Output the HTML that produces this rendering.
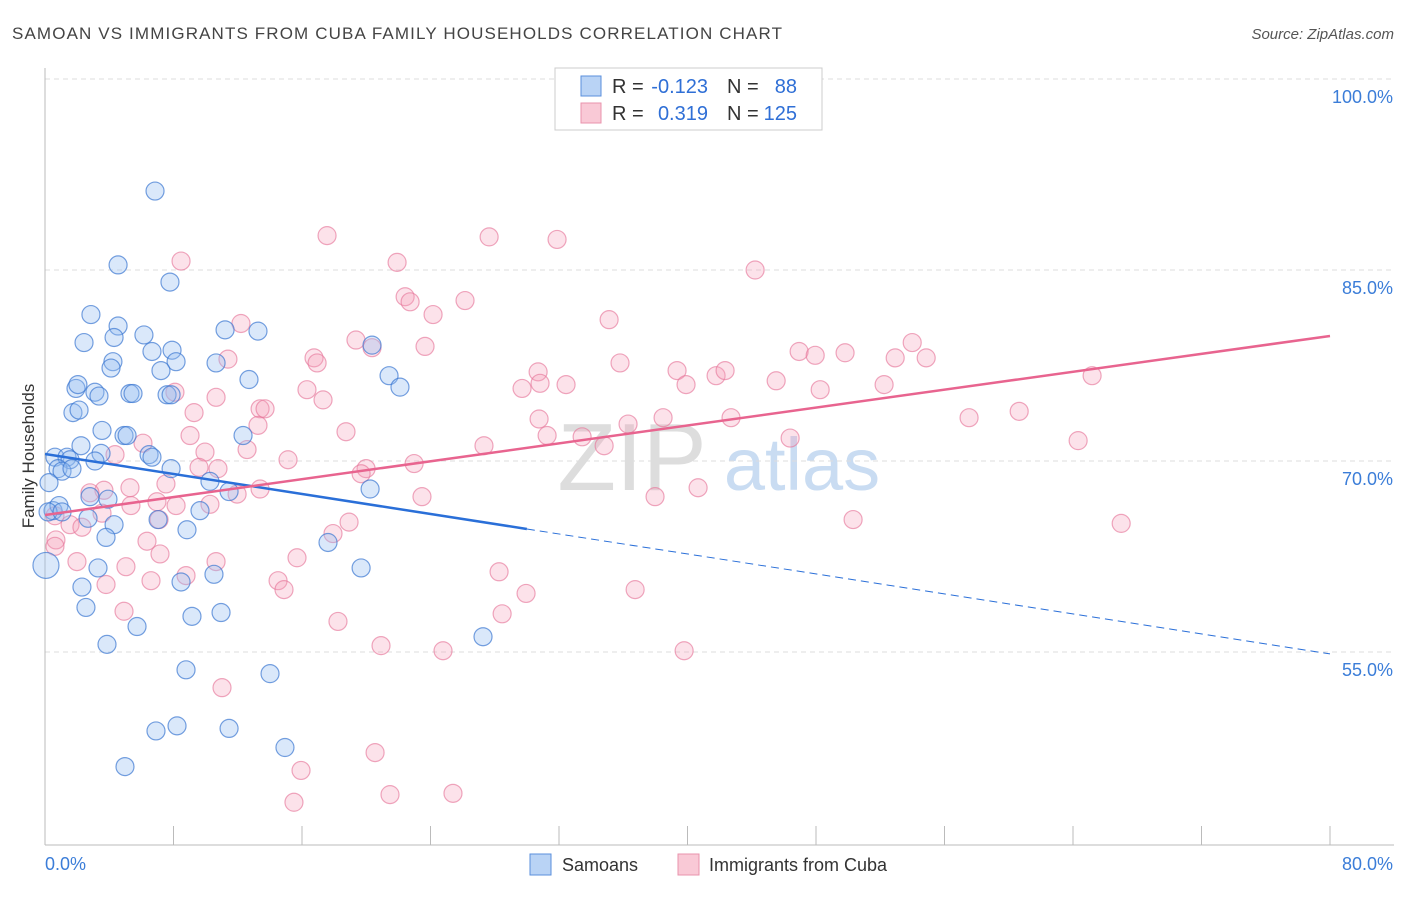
<!DOCTYPE html>
<html><head><meta charset="utf-8"><style>
body{margin:0;background:#fff;font-family:"Liberation Sans",sans-serif;}
svg text{font-family:"Liberation Sans",sans-serif;}
</style></head><body>
<svg id="chart" width="1406" height="892" xmlns="http://www.w3.org/2000/svg">
<text x="12" y="39" font-size="17" fill="#444" textLength="770" lengthAdjust="spacing">SAMOAN VS IMMIGRANTS FROM CUBA FAMILY HOUSEHOLDS CORRELATION CHART</text>
<text x="1394" y="39" font-size="15" fill="#555" font-style="italic" text-anchor="end">Source: ZipAtlas.com</text>
<text transform="translate(34,456) rotate(-90)" font-size="17" fill="#333" text-anchor="middle">Family Households</text>
<g>
<text x="632" y="490" font-size="96" fill="#ddd" text-anchor="middle" font-family="Liberation Serif">ZIP</text>
<text x="802" y="490" font-size="74" fill="#c9dcf2" text-anchor="middle">atlas</text>
</g>
<g id="grid"></g><g id="axes"></g><g id="pts"></g><g id="lines"></g>
<g>
<rect x="555" y="68" width="267" height="62" fill="#fff" stroke="#ccc"/>
<rect x="581" y="76" width="20" height="20" fill="#b9d3f5" stroke="#5a8fdc"/>
<rect x="581" y="103" width="20" height="20" fill="#f9c9d6" stroke="#e993ac"/>
<text x="612" y="93" font-size="20" fill="#333">R =</text>
<text x="708" y="93" font-size="20" fill="#2f6fd6" text-anchor="end">-0.123</text>
<text x="727" y="93" font-size="20" fill="#333">N =</text>
<text x="797" y="93" font-size="20" fill="#2f6fd6" text-anchor="end">88</text>
<text x="612" y="120" font-size="20" fill="#333">R =</text>
<text x="708" y="120" font-size="20" fill="#2f6fd6" text-anchor="end">0.319</text>
<text x="727" y="120" font-size="20" fill="#333">N =</text>
<text x="797" y="120" font-size="20" fill="#2f6fd6" text-anchor="end">125</text>
</g>
<g>
<rect x="530" y="854" width="21" height="21" fill="#b9d3f5" stroke="#5a8fdc"/>
<text x="562" y="871" font-size="18" fill="#333">Samoans</text>
<rect x="678" y="854" width="21" height="21" fill="#f9c9d6" stroke="#e993ac"/>
<text x="709" y="871" font-size="18" fill="#333">Immigrants from Cuba</text>
</g>
</svg>
<script>
const yTicks=[55,70,85,100];
const yTickLabels=["55.0%","70.0%","85.0%","100.0%"];
const xEndLabels=["0.0%","80.0%"];
const samoanX=[6.85,4.55,7.78,2.86,4.55,6.16,11.21,13.26,2.43,4.30,6.66,7.91,4.23,8.16,10.65,4.11,7.22,1.93,2.05,3.11,3.36,5.29,5.48,7.60,7.85,12.70,20.36,21.42,22.10,1.74,2.12,3.55,4.92,5.11,12.33,2.24,3.49,6.48,6.66,0.62,1.37,1.56,3.11,0.81,1.06,1.68,7.85,10.27,11.46,20.24,0.25,0.50,0.87,2.80,3.92,9.65,7.04,4.30,0.19,1.06,2.68,8.84,3.80,17.62,0.06,3.30,10.52,8.47,19.68,2.30,2.55,9.15,10.96,5.73,3.86,27.27,8.78,14.01,8.22,6.91,11.46,14.94,4.98];
const samoanY=[91.2,85.4,84.05,81.5,80.6,79.9,80.3,80.2,79.3,79.7,78.6,78.7,77.8,77.8,77.7,77.3,77.1,75.7,76.0,75.4,75.1,75.3,75.3,75.2,75.2,76.4,79.1,76.7,75.8,73.8,74.0,72.4,72.0,72.0,72.0,71.2,70.6,70.5,70.3,70.3,70.3,70.1,70.0,69.4,69.2,69.4,69.4,68.4,67.6,67.8,68.3,66.1,66.5,67.2,67.0,66.1,65.4,65.0,66.0,66.0,65.5,64.6,64.0,63.6,61.8,61.6,61.1,60.5,61.6,60.1,58.5,57.8,58.1,57.0,55.6,56.2,53.6,53.3,49.2,48.8,49.0,47.5,46.0];
const cubaX=[8.47,17.56,27.65,31.88,44.21,21.92,22.42,22.73,24.16,26.15,35.12,12.20,11.39,16.75,16.94,19.36,20.36,23.66,35.80,30.70,30.82,32.44,29.70,39.35,39.91,41.78,42.34,45.52,46.95,47.95,48.26,49.81,52.24,52.93,53.99,54.86,65.19,16.31,17.31,8.09,10.65,9.28,13.39,13.70,13.26,18.74,30.76,38.48,42.71,57.53,60.65,64.32,46.39,27.33,31.26,34.81,33.44,36.30,9.03,9.96,6.10,4.36,12.58,15.13,19.99,22.98,9.59,10.77,19.68,5.29,3.67,2.80,7.53,13.39,11.96,23.47,37.98,40.66,6.97,8.16,10.27,5.35,3.55,0.62,1.56,2.30,7.10,18.93,50.31,67.0,17.93,0.68,0.62,6.35,7.16,10.65,15.69,1.99,5.04,3.80,6.60,8.78,14.51,14.88,28.27,29.95,36.74,4.92,28.46,18.24,20.92,24.78,39.79,11.02,20.55,15.94,15.50,21.48,25.40];
const cubaY=[85.7,87.7,87.6,87.4,85.0,85.6,82.9,82.5,81.5,82.6,81.1,80.8,78.0,78.1,77.7,79.5,78.9,79.0,77.7,77.0,76.1,76.0,75.7,77.1,76.0,76.7,77.1,76.3,78.6,78.3,75.6,78.5,76.0,78.1,79.3,78.1,76.7,75.6,74.8,75.4,75.0,73.8,74.1,74.1,72.8,72.3,73.3,73.4,73.4,73.4,73.9,71.6,71.8,71.2,72.0,71.2,71.9,72.9,72.0,70.7,71.4,70.5,70.9,70.1,69.4,69.8,69.5,69.4,69.0,67.9,67.7,67.5,68.2,67.8,67.4,67.2,67.2,67.9,66.8,66.5,66.6,66.5,65.9,65.7,65.0,64.8,65.4,65.2,65.4,65.1,64.3,63.8,63.3,63.7,62.7,62.1,62.4,62.1,61.7,60.3,60.6,61.0,60.6,59.9,61.3,59.6,59.9,58.2,58.0,57.4,55.5,55.1,55.1,52.2,47.1,45.7,43.2,43.8,43.9];
const samoanTrend=[70.55,54.85];
const cubaTrend=[65.76,79.82];
const samoanTrendSolidEnd=30;

const NS="http://www.w3.org/2000/svg";
const X0=45,X1=1330,Y100=79,PX15=191;
function sx(v){return X0+(X1-X0)*v/80;}
function sy(v){return Y100+(100-v)*PX15/15;}
function mk(tag,attrs,parent){const e=document.createElementNS(NS,tag);for(const k in attrs)e.setAttribute(k,attrs[k]);parent.appendChild(e);return e;}
const grid=document.getElementById('grid'),axes=document.getElementById('axes'),pts=document.getElementById('pts'),lines=document.getElementById('lines');
yTicks.forEach((t,i)=>{
 const l=mk('line',{x1:45,x2:1394,y1:sy(t),y2:sy(t),stroke:'#ddd','stroke-dasharray':'5,4'},grid);
 
 
 const tx=mk('text',{x:1393,y:sy(t)+24,'font-size':18,fill:'#3b7dd8','text-anchor':'end'},axes);
 tx.textContent=yTickLabels[i];
 
 
});
const la=mk('line',{x1:45,x2:45,y1:68,y2:845,stroke:'#bbb'},axes);


const ba=mk('line',{x1:45,x2:1394,y1:845,y2:845,stroke:'#bbb'},axes);


for(let i=0;i<=10;i++){
 const t=mk('line',{x1:sx(i*8),x2:sx(i*8),y1:826,y2:845,stroke:'#bbb'},axes);
 
 
}
const xl0=mk('text',{x:45,y:870,'font-size':18,fill:'#3b7dd8'},axes);xl0.textContent=xEndLabels[0];


const xl1=mk('text',{x:1393,y:870,'font-size':18,fill:'#3b7dd8','text-anchor':'end'},axes);xl1.textContent=xEndLabels[1];


cubaX.forEach((v,i)=>{
 const c=mk('circle',{cx:sx(v),cy:sy(cubaY[i]),r:9,fill:'rgba(244,160,185,0.3)',stroke:'rgba(230,120,155,0.65)','stroke-width':1.2},pts);
 
 
});
samoanX.forEach((v,i)=>{
 const c=mk('circle',{cx:sx(v),cy:sy(samoanY[i]),r:(i==64?13:9),fill:'rgba(150,190,240,0.35)',stroke:'rgba(60,120,210,0.7)','stroke-width':1.2},pts);
 
 
});
function ty(tr,x){return tr[0]+(tr[1]-tr[0])*x/80;}
const bs=mk('line',{x1:sx(0),y1:sy(ty(samoanTrend,0)),x2:sx(samoanTrendSolidEnd),y2:sy(ty(samoanTrend,samoanTrendSolidEnd)),stroke:'#2a6fd8','stroke-width':2.5},lines);


const bd=mk('line',{x1:sx(samoanTrendSolidEnd),y1:sy(ty(samoanTrend,samoanTrendSolidEnd)),x2:sx(80),y2:sy(ty(samoanTrend,80)),stroke:'#2a6fd8','stroke-width':1,'stroke-dasharray':'8,5'},lines);


const pl=mk('line',{x1:sx(0),y1:sy(ty(cubaTrend,0)),x2:sx(80),y2:sy(ty(cubaTrend,80)),stroke:'#e8648f','stroke-width':2.5},lines);


</script>
</body></html>
